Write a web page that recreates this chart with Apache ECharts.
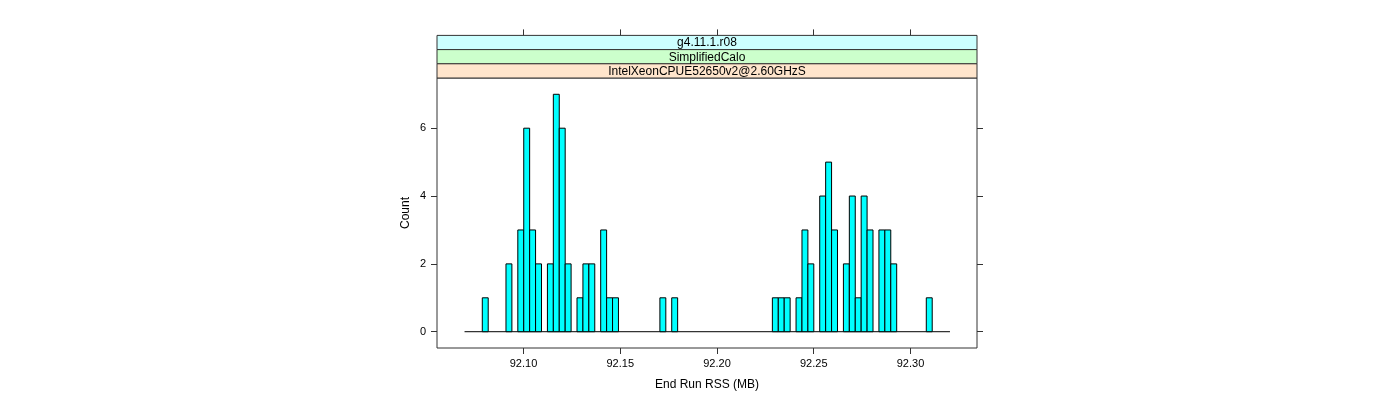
<!DOCTYPE html>
<html>
<head>
<meta charset="utf-8">
<script src="https://cdn.jsdelivr.net/npm/echarts@6/dist/echarts.min.js"></script>
<style>
  html, body { margin: 0; padding: 0; background: #fff; }
  #chart { width: 1400px; height: 400px; }
</style>
</head>
<body>
<div id="chart"></div>
<script>
// histogram bins: first break, bin width, counts per bin
const binStart = 92.06953;
const binWidth = 0.0030594;
const binCounts = [
  0, 0, 0, 1, 0, 0, 0, 2, 0, 3,
  6, 3, 2, 0, 2, 7, 6, 2, 0, 1,
  2, 2, 0, 3, 1, 1, 0, 0, 0, 0,
  0, 0, 0, 1, 0, 1, 0, 0, 0, 0,
  0, 0, 0, 0, 0, 0, 0, 0, 0, 0,
  0, 0, 1, 1, 1, 0, 1, 3, 2, 0,
  4, 5, 3, 0, 2, 4, 1, 4, 3, 0,
  3, 3, 2, 0, 0, 0, 0, 0, 1, 0,
  0, 0
];
const xTicks = [92.10, 92.15, 92.20, 92.25, 92.30];
const yTicks = [0, 2, 4, 6];
// strip labels, top to bottom
const stripLabels = ["g4.11.1.r08", "SimplifiedCalo", "IntelXeonCPUE52650v2@2.60GHzS"];
const stripColors = ["#CCFFFF", "#CCFFCC", "#FFE5CC"];

const fontFamily = "'Liberation Sans', Arial, sans-serif";
const xMin = 92.0553, xMax = 92.33437;
const yMin = -0.48, yMax = 7.48;

const panelLeft = 437, panelTop = 78, panelW = 540, panelH = 270;
const stripH = 14.2;

const barData = [];
binCounts.forEach((c, i) => {
  if (c > 0) barData.push([binStart + i * binWidth, binStart + (i + 1) * binWidth, c]);
});
const breakEnd = binStart + binCounts.length * binWidth;

const renderBar = (params, api) => {
  const p0 = api.coord([api.value(0), 0]);
  const p1 = api.coord([api.value(1), api.value(2)]);
  return {
    type: 'rect',
    shape: { x: p0[0], y: p1[1], width: p1[0] - p0[0], height: p0[1] - p1[1] },
    style: { fill: '#00FFFF', stroke: '#000', lineWidth: 1 }
  };
};

const stripGraphics = [];
stripLabels.forEach((label, i) => {
  const top = panelTop - stripH * (stripLabels.length - i);
  stripGraphics.push({
    type: 'rect',
    shape: { x: panelLeft, y: top, width: panelW, height: stripH },
    style: { fill: stripColors[i], stroke: '#333', lineWidth: 1 },
    z: 10
  });
  stripGraphics.push({
    type: 'text',
    x: panelLeft + panelW / 2,
    y: top + stripH / 2 + 0.5,
    style: { text: label, fill: '#000', font: '12px ' + fontFamily, align: 'center', verticalAlign: 'middle' },
    z: 11
  });
});

const chart = echarts.init(document.getElementById('chart'));
const tickStyle = { color: '#333', width: 1 };
chart.setOption({
  animation: false,
  backgroundColor: '#fff',
  textStyle: { fontFamily: fontFamily },
  grid: {
    left: panelLeft, top: panelTop, width: panelW, height: panelH,
    show: true, borderColor: '#333', borderWidth: 1
  },
  xAxis: [
    {
      type: 'value', min: xMin, max: xMax, position: 'bottom',
      axisLine: { show: false, onZero: false },
      splitLine: { show: false },
      axisTick: { show: true, customValues: xTicks, length: 6, lineStyle: tickStyle },
      axisLabel: {
        customValues: xTicks, formatter: v => v.toFixed(2),
        fontSize: 11, color: '#000', margin: 10
      },
      name: 'End Run RSS (MB)', nameLocation: 'middle', nameGap: 31,
      nameTextStyle: { fontSize: 12, color: '#000' }
    },
    {
      type: 'value', min: xMin, max: xMax, position: 'top', offset: stripH * 3,
      axisLine: { show: false, onZero: false },
      splitLine: { show: false },
      axisTick: { show: true, customValues: xTicks, length: 6, lineStyle: tickStyle },
      axisLabel: { show: false }
    }
  ],
  yAxis: [
    {
      type: 'value', min: yMin, max: yMax, position: 'left',
      axisLine: { show: false, onZero: false },
      splitLine: { show: false },
      axisTick: { show: true, customValues: yTicks, length: 6, lineStyle: tickStyle },
      axisLabel: { customValues: yTicks, fontSize: 11, color: '#000', margin: 11 },
      name: 'Count', nameLocation: 'middle', nameGap: 25, nameRotate: 90,
      nameTextStyle: { fontSize: 12, color: '#000' }
    },
    {
      type: 'value', min: yMin, max: yMax, position: 'right',
      axisLine: { show: false, onZero: false },
      splitLine: { show: false },
      axisTick: { show: true, customValues: yTicks, length: 6, lineStyle: tickStyle },
      axisLabel: { show: false }
    }
  ],
  graphic: stripGraphics,
  series: [
    {
      type: 'line',
      data: [[binStart, 0], [breakEnd, 0]],
      symbol: 'none',
      lineStyle: { color: '#000', width: 1 },
      z: 1
    },
    {
      type: 'custom',
      renderItem: renderBar,
      encode: { x: [0, 1], y: 2 },
      data: barData,
      z: 2
    }
  ]
});
</script>
</body>
</html>
